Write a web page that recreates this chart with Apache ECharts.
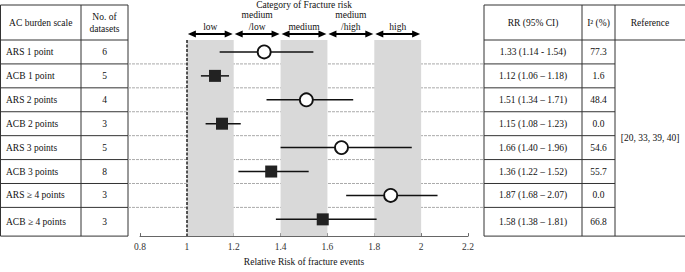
<!DOCTYPE html>
<html>
<head>
<meta charset="utf-8">
<script src="https://cdn.jsdelivr.net/npm/echarts@6/dist/echarts.min.js"></script>
<style>
  html, body { margin: 0; padding: 0; background: #fff; }
  #main { width: 685px; height: 272px; }
</style>
</head>
<body>
<div id="main"></div>
<script>
// rows of the forest plot (top to bottom)
var scales = ['ARS 1 point', 'ACB 1 point', 'ARS 2 points', 'ACB 2 points',
  'ARS 3 points', 'ACB 3 points', 'ARS \u2265 4 points', 'ACB \u2265 4 points'];
var datasets = [6, 5, 4, 3, 5, 8, 3, 3];
var rr = [1.33, 1.12, 1.51, 1.15, 1.66, 1.36, 1.87, 1.58];
var lower = [1.14, 1.06, 1.34, 1.08, 1.40, 1.22, 1.68, 1.38];
var upper = [1.54, 1.18, 1.71, 1.23, 1.96, 1.52, 2.07, 1.81];
var rrText = ['1.33 (1.14 - 1.54)', '1.12 (1.06 \u2013 1.18)', '1.51 (1.34 \u2013 1.71)',
  '1.15 (1.08 \u2013 1.23)', '1.66 (1.40 \u2013 1.96)', '1.36 (1.22 \u2013 1.52)',
  '1.87 (1.68 \u2013 2.07)', '1.58 (1.38 \u2013 1.81)'];
var i2 = ['77.3', '1.6', '48.4', '0.0', '54.6', '55.7', '0.0', '66.8'];
var reference = '[20, 33, 39, 40]';

// fracture risk categories
var riskEdges = [1.0, 1.2, 1.4, 1.6, 1.8, 2.0];
var riskNames = ['low', 'medium\n/low', 'medium', 'medium\n/high', 'high'];
var greyBands = [[1.0, 1.2], [1.4, 1.6], [1.8, 2.0]];

var xMin = 0.8, xMax = 2.2, xStep = 0.2;

var FONT = '"Liberation Serif", "Times New Roman", serif';
var FS = 9.5;
var INK = '#111';

var chart = echarts.init(document.getElementById('main'), null, { renderer: 'svg' });

var arsData = [], acbData = [], ciData = [];
for (var i = 0; i < scales.length; i++) {
  ciData.push([lower[i], upper[i], i]);
  if (scales[i].indexOf('ARS') === 0) arsData.push([rr[i], i]);
  else acbData.push([rr[i], i]);
}

chart.setOption({
  animation: false,
  grid: { left: 140, right: 217, top: 40, bottom: 27 },
  xAxis: {
    type: 'value', min: xMin, max: xMax, interval: xStep, position: 'bottom',
    splitLine: { show: false },
    axisLine: { onZero: false, lineStyle: { color: '#666', width: 1 } },
    axisTick: { inside: true, length: 3, lineStyle: { color: '#666' } },
    axisLabel: { color: '#333', fontFamily: FONT, fontSize: FS, margin: 6 },
    name: 'Relative Risk of fracture events',
    nameLocation: 'middle', nameGap: 18,
    nameTextStyle: { color: INK, fontFamily: FONT, fontSize: FS }
  },
  yAxis: {
    type: 'value', min: -0.5, max: 7.7, inverse: true, show: false
  },
  series: [
    {
      type: 'custom',
      data: ciData,
      z: 2,
      renderItem: function (params, api) {
        var a = api.coord([api.value(0), api.value(2)]);
        var b = api.coord([api.value(1), api.value(2)]);
        return {
          type: 'line',
          shape: { x1: a[0], y1: a[1], x2: b[0], y2: b[1] },
          style: { stroke: INK, lineWidth: 1.5 }
        };
      },
      markArea: {
        silent: true,
        itemStyle: { color: '#d9d9d9' },
        data: greyBands.map(function (b) { return [{ xAxis: b[0] }, { xAxis: b[1] }]; })
      },
      markLine: {
        silent: true, symbol: 'none',
        label: { show: false },
        lineStyle: { color: '#222', type: [3, 1.5], width: 1.5 },
        data: [{ xAxis: 1 }]
      }
    },
    {
      type: 'scatter', data: arsData, z: 4,
      symbol: 'circle', symbolSize: 13,
      itemStyle: { color: '#fff', borderColor: INK, borderWidth: 1.8, opacity: 1 }
    },
    {
      type: 'scatter', data: acbData, z: 4,
      symbol: 'rect', symbolSize: 12,
      itemStyle: { color: '#222', opacity: 1 }
    }
  ]
});

function px(v) { return chart.convertToPixel({ xAxisIndex: 0 }, v); }
function py(v) { return chart.convertToPixel({ yAxisIndex: 0 }, v); }

var g = [];
function line(x1, y1, x2, y2, stroke, dash) {
  g.push({ type: 'line', silent: true,
    shape: { x1: x1, y1: y1, x2: x2, y2: y2 },
    style: { stroke: stroke || '#333', lineWidth: 1, lineDash: dash || null } });
}
function text(x, y, s, align, size) {
  g.push({ type: 'text', silent: true, x: x, y: y,
    style: { text: s, fill: INK, font: (size || FS) + 'px ' + FONT,
      textAlign: align || 'center', textVerticalAlign: 'middle', lineHeight: 12 } });
}

var yTop = 5, yHead = 40, yBot = py(7.7);
var L0 = 0.5, L1 = 81, L2 = 128;
var R0 = 484, R1 = 582, R2 = 615, R3 = 685;

// left table
line(L0, yTop, L0, yBot); line(L1, yTop, L1, yBot); line(L2, yTop, L2, yBot);
line(L0, yTop, L2, yTop); line(L0, yHead, L2, yHead); line(L0, yBot, L2, yBot);
// right table
line(R0, yTop, R0, yBot); line(R1, yTop, R1, yBot); line(R2, yTop, R2, yBot);
line(R0, yTop, R3, yTop); line(R0, yHead, R3, yHead); line(R0, yBot, R3, yBot);

for (var r = 1; r < scales.length; r++) {
  var yb = py(r - 0.5);
  line(L0, yb, L2, yb);
  line(L2, yb, R0, yb, '#aaa', [3, 1]);
  line(R0, yb, R2, yb);
}

// headers
text((L0 + L1) / 2, (yTop + yHead) / 2, 'AC burden scale');
text((L1 + L2) / 2, (yTop + yHead) / 2, 'No. of\ndatasets');
text((R0 + R1) / 2, (yTop + yHead) / 2, 'RR (95% CI)');
text((R1 + R2) / 2, (yTop + yHead) / 2, 'I\u00b2 (%)');
text((R2 + R3) / 2, (yTop + yHead) / 2, 'Reference');

for (var k = 0; k < scales.length; k++) {
  var yc = k === scales.length - 1 ? (py(k - 0.5) + yBot) / 2 : py(k);
  text(6, yc, scales[k], 'left');
  text((L1 + L2) / 2, yc, String(datasets[k]));
  text((R0 + R1) / 2, yc, rrText[k]);
  text((R1 + R2) / 2, yc, i2[k]);
}
text((R2 + R3) / 2, (yHead + yBot) / 2, reference);

// category arrows
text(px((riskEdges[0] + riskEdges[riskEdges.length - 1]) / 2), 5, 'Category of Fracture risk');
var ay = 34;
for (var c = 0; c < riskNames.length; c++) {
  var xa = px(riskEdges[c]) + 1, xb = px(riskEdges[c + 1]) - 1;
  g.push({ type: 'line', silent: true, shape: { x1: xa + 4, y1: ay, x2: xb - 4, y2: ay },
    style: { stroke: '#000', lineWidth: 2 } });
  g.push({ type: 'polygon', silent: true,
    shape: { points: [[xa, ay], [xa + 8, ay - 3.5], [xa + 8, ay + 3.5]] }, style: { fill: '#000' } });
  g.push({ type: 'polygon', silent: true,
    shape: { points: [[xb, ay], [xb - 8, ay - 3.5], [xb - 8, ay + 3.5]] }, style: { fill: '#000' } });
  var twoLine = riskNames[c].indexOf('\n') >= 0;
  text((xa + xb) / 2, twoLine ? 21 : 27, riskNames[c]);
}

chart.setOption({ graphic: g });
</script>
</body>
</html>
